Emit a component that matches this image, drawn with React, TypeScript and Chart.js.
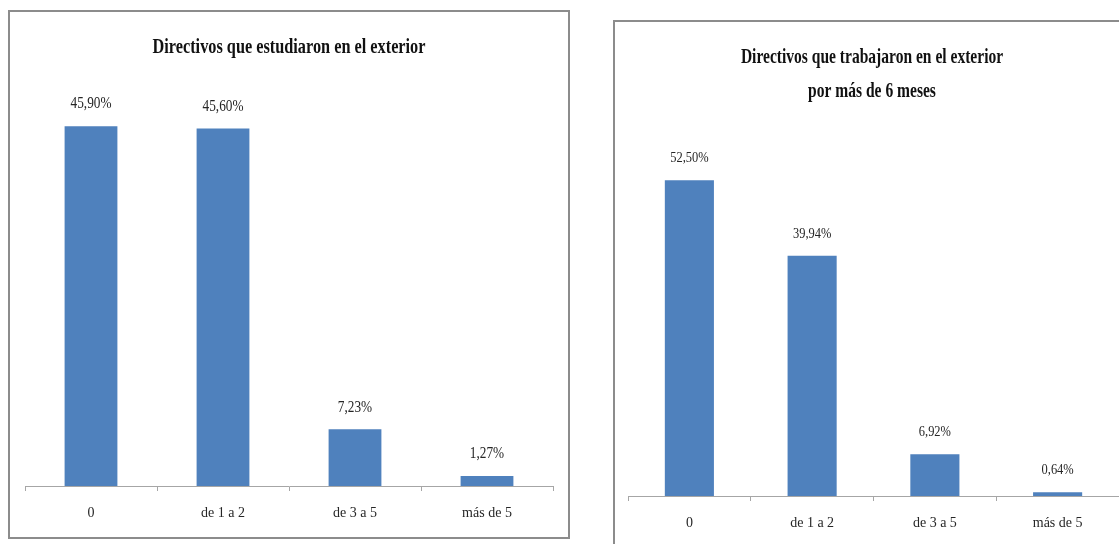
import React, { useEffect, useRef } from "react";
import { Chart, registerables } from "chart.js";

Chart.register(...registerables);

// ---- data ----
const categories = ["0", "de 1 a 2", "de 3 a 5", "más de 5"];
const studiedValues = [45.9, 45.6, 7.23, 1.27];
const workedValues = [52.5, 39.94, 6.92, 0.64];
const studiedTitle = ["Directivos que estudiaron en el exterior"];
const workedTitle = ["Directivos que trabajaron en el exterior", "por más de 6 meses"];
const studiedMax = 50;
const workedMax = 60;

const fmt = (v: number) => v.toFixed(2).replace(".", ",") + "%";

type PanelProps = {
  values: number[];
  title: string[];
  yMax: number;
  box: { left: number; top: number; width: number; height: number };
  pad: { left: number; right: number; top: number };
  axisHeight: number;
  titleTop: number;
  titleLine: number;
  titleSize: number;
  labelSize: number;
  labelGap: number;
};

function Panel(p: PanelProps) {
  const ref = useRef<HTMLCanvasElement | null>(null);
  const cw = p.box.width - 4;
  const ch = p.box.height - 4;

  useEffect(() => {
    if (!ref.current) return;
    const textPlugin = {
      id: "condensedText",
      afterDatasetsDraw(chart: any) {
        const ctx = chart.ctx as CanvasRenderingContext2D;
        ctx.save();
        ctx.textAlign = "center";
        ctx.textBaseline = "middle";
        ctx.fillStyle = "#111111";
        ctx.font = `bold ${p.titleSize}px "Liberation Serif"`;
        p.title.forEach((line, i) => {
          ctx.save();
          ctx.translate(chart.width / 2, p.titleTop + i * p.titleLine);
          ctx.scale(0.74, 1);
          ctx.fillText(line, 0, 0);
          ctx.restore();
        });
        const meta = chart.getDatasetMeta(0);
        ctx.font = `${p.labelSize}px "Liberation Serif"`;
        ctx.fillStyle = "#262626";
        meta.data.forEach((bar: any, i: number) => {
          ctx.save();
          ctx.translate(bar.x, bar.y - p.labelGap);
          ctx.scale(0.83, 1);
          ctx.fillText(fmt(p.values[i]), 0, 0);
          ctx.restore();
        });
        ctx.restore();
      },
    };

    const chart = new Chart(ref.current, {
      type: "bar",
      data: {
        labels: categories,
        datasets: [
          {
            data: p.values,
            backgroundColor: "#4f81bd",
            borderWidth: 0,
            barPercentage: 0.4,
            categoryPercentage: 1,
          },
        ],
      },
      options: {
        responsive: false,
        animation: false,
        layout: { padding: { left: p.pad.left, right: p.pad.right, top: p.pad.top, bottom: 0 } },
        plugins: {
          legend: { display: false },
          tooltip: { enabled: false },
          title: { display: false },
        },
        scales: {
          x: {
            grid: {
              display: true,
              drawOnChartArea: false,
              drawTicks: true,
              tickLength: 5,
              color: "#a6a6a6",
              offset: true,
            },
            border: { color: "#a6a6a6", width: 1 },
            ticks: {
              font: { family: "Liberation Serif", size: 14 },
              color: "#262626",
              padding: 14,
              maxRotation: 0,
              autoSkip: false,
            },
            afterFit: (s: any) => {
              s.height = p.axisHeight;
            },
          },
          y: { display: false, min: 0, max: p.yMax },
        },
      },
      plugins: [textPlugin],
    });
    return () => chart.destroy();
  }, []);

  return (
    <div
      style={{
        position: "absolute",
        left: p.box.left,
        top: p.box.top,
        width: p.box.width,
        height: p.box.height,
        border: "2px solid #8c8c8c",
        boxSizing: "border-box",
        background: "#ffffff",
      }}
    >
      <canvas ref={ref} width={cw} height={ch} style={{ display: "block", width: cw, height: ch }} />
    </div>
  );
}

export default function App() {
  return (
    <div
      style={{
        position: "fixed",
        left: 0,
        top: 0,
        width: 1119,
        height: 544,
        overflow: "hidden",
        background: "#ffffff",
      }}
    >
      <Panel
        values={studiedValues}
        title={studiedTitle}
        yMax={studiedMax}
        box={{ left: 8, top: 10, width: 562, height: 529 }}
        pad={{ left: 15, right: 15, top: 82 }}
        axisHeight={51}
        titleTop={35}
        titleLine={34}
        titleSize={22}
        labelSize={16}
        labelGap={22}
      />
      <Panel
        values={workedValues}
        title={workedTitle}
        yMax={workedMax}
        box={{ left: 613, top: 20, width: 518, height: 540 }}
        pad={{ left: 13, right: 10, top: 113 }}
        axisHeight={62}
        titleTop={36}
        titleLine={34}
        titleSize={21}
        labelSize={15}
        labelGap={22}
      />
    </div>
  );
}
